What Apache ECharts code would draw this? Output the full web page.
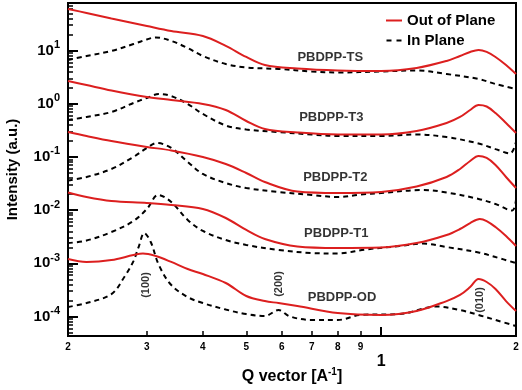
<!DOCTYPE html>
<html><head><meta charset="utf-8">
<script src="https://cdn.jsdelivr.net/npm/echarts@6/dist/echarts.min.js"></script>
<style>html,body{margin:0;padding:0;background:#fff}#c{width:522px;height:390px}</style>
</head><body><div id="c"></div>
<script>
// ---- Data (Q in 1/A, intensity in a.u.) ----
const qTSout = [0.2,0.22,0.25,0.3,0.34,0.4,0.45,0.5,0.55,0.65,0.8,1.0,1.2,1.4,1.5,1.58,1.65,1.72,1.8,1.9,2.0];
const iTSout = [60.3,50.7,39.9,28.8,23.2,18.7,12.2,7.55,5.33,4.59,4.21,4.12,4.69,6.35,7.89,9.38,10.2,9.38,7.55,5.33,3.61];
const qTSin  = [0.2,0.22,0.25,0.28,0.3,0.314,0.34,0.37,0.4,0.45,0.5,0.59,0.7,0.8,1.0,1.2,1.4,1.65,1.8,2.0];
const iTSin  = [6.62,7.87,9.77,13.2,16.1,17.6,15.1,11.1,7.88,5.57,4.79,4.49,4.03,3.86,4.03,4.21,3.61,2.91,2.34,1.89];

const qT3out = [0.2,0.22,0.25,0.3,0.34,0.4,0.45,0.5,0.55,0.65,0.8,1.0,1.2,1.4,1.5,1.58,1.65,1.72,1.8,1.9,2.0];
const iT3out = [2.67,2.24,1.77,1.34,1.17,0.986,0.760,0.472,0.334,0.287,0.263,0.263,0.306,0.433,0.562,0.760,0.944,0.885,0.667,0.433,0.281];
const qT3in  = [0.2,0.22,0.25,0.28,0.3,0.319,0.34,0.37,0.4,0.45,0.5,0.59,0.7,0.8,1.0,1.2,1.4,1.65,1.8,1.94,2.0];
const iT3in  = [0.493,0.562,0.698,1.03,1.28,1.52,1.39,0.986,0.640,0.389,0.327,0.293,0.263,0.247,0.247,0.263,0.236,0.178,0.140,0.116,0.191];

const qT2out = [0.2,0.22,0.25,0.3,0.34,0.4,0.45,0.5,0.55,0.65,0.8,1.0,1.2,1.4,1.5,1.58,1.65,1.72,1.8,1.9,2.0];
const iT2out = [0.294,0.247,0.199,0.154,0.132,0.0995,0.0735,0.0498,0.0337,0.0223,0.0209,0.0219,0.0277,0.0419,0.0592,0.0838,0.104,0.0953,0.0705,0.0419,0.0260];
const qT2in  = [0.2,0.22,0.25,0.28,0.3,0.316,0.34,0.37,0.4,0.45,0.5,0.59,0.7,0.8,0.9,1.0,1.24,1.4,1.65,1.8,1.96,2.0];
const iT2in  = [0.0360,0.0419,0.0592,0.0995,0.147,0.182,0.147,0.0802,0.0477,0.0323,0.0260,0.0219,0.0192,0.0176,0.0196,0.0209,0.0239,0.0214,0.0162,0.0130,0.0098,0.0155];

const qT1out = [0.2,0.22,0.25,0.3,0.34,0.4,0.45,0.5,0.55,0.65,0.8,1.0,1.2,1.4,1.5,1.58,1.66,1.72,1.8,1.9,2.0];
const iT1out = [0.0214,0.0176,0.0148,0.0136,0.0125,0.0105,0.00710,0.00423,0.00286,0.00207,0.00194,0.00198,0.00240,0.00340,0.00441,0.00571,0.00679,0.00623,0.00481,0.00326,0.00211];
const qT1in  = [0.2,0.22,0.25,0.28,0.3,0.318,0.34,0.37,0.4,0.45,0.5,0.59,0.7,0.8,0.924,1.1,1.24,1.4,1.65,1.8,2.0];
const iT1in  = [0.00240,0.00268,0.00387,0.00623,0.0105,0.0192,0.0142,0.00652,0.00405,0.00274,0.00221,0.00178,0.00156,0.00153,0.00182,0.00211,0.00235,0.00202,0.00160,0.00131,0.00101];

const qODout = [0.2,0.22,0.25,0.28,0.294,0.314,0.34,0.37,0.4,0.45,0.5,0.55,0.59,0.65,0.8,1.0,1.2,1.4,1.5,1.58,1.65,1.72,1.8,1.9,2.0];
const iODout = [0.00120,0.00106,0.00115,0.00143,0.00153,0.00137,0.00106,0.000780,0.000628,0.000426,0.000243,0.000195,0.000179,0.000157,0.000116,0.000107,0.000127,0.000195,0.000254,0.000358,0.000507,0.000445,0.000329,0.000195,0.000127];
const qODin  = [0.2,0.22,0.25,0.268,0.28,0.288,0.296,0.306,0.319,0.34,0.37,0.4,0.45,0.5,0.55,0.59,0.626,0.7,0.8,0.9,1.1,1.333,1.5,1.65,1.8,2.0];
const iODin  = [0.000151,0.000179,0.000264,0.000577,0.00110,0.00211,0.00371,0.00251,0.000929,0.000391,0.000232,0.000179,0.000135,0.000111,0.000102,0.000132,0.0001,0.0000859,0.0000859,0.000107,0.000111,0.000154,0.000132,0.000107,0.0000859,0.0000662];

// Axis ranges and ticks
const qRange = [0.2, 2];
const iRange = [4.3e-5, 78];
const xTickValues = [0.2,0.3,0.4,0.5,0.6,0.7,0.8,0.9,1,2];
const xMajorTick = [1];
const yDecades = [-4,-3,-2,-1,0,1];

// Annotations
const sampleNames = ['PBDPP-TS','PBDPP-T3','PBDPP-T2','PBDPP-T1','PBDPP-OD'];
const sampleLabelQ = [0.770,0.774,0.790,0.794,0.818];
const sampleLabelI = [7.55,0.562,0.0419,0.00371,0.000232];
const peakNames = ['(100)','(200)','(010)'];
const peakQ = [0.2986,0.592,1.66];
const peakI = [0.000391,0.000408,0.000204];

// ---- Chart ----
const lg = v => Math.log10(v);
const pairs = (q, i) => q.map((x, k) => [lg(x), lg(i[k])]);
const RED = '#dc1f1f';
const FONT = '"Liberation Sans", Arial, Helvetica, sans-serif';

const yMinor = [];
for (let n = -5; n <= 1; n++) for (let k = 2; k <= 9; k++) {
  const v = k * Math.pow(10, n);
  if (v > iRange[0] && v < iRange[1]) yMinor.push(lg(v));
}

function outSeries(q, i) {
  return {type:'line', name:'Out of Plane', data:pairs(q,i), symbol:'none', smooth:0.35,
    lineStyle:{color:RED, width:2}, itemStyle:{color:RED}, z:3};
}
function inSeries(q, i) {
  return {type:'line', name:'In Plane', data:pairs(q,i), symbol:'none', smooth:0.35,
    lineStyle:{color:'#000', width:2, type:[5,4]}, itemStyle:{color:'#000'}, z:2};
}

const xMin = lg(qRange[0]), xMax = lg(qRange[1]);
const yMin = lg(iRange[0]), yMax = lg(iRange[1]);

const option = {
  animation:false,
  backgroundColor:'#fff',
  textStyle:{fontFamily:FONT},
  grid:{left:68, right:6, top:3, bottom:54, show:true, borderColor:'#000', borderWidth:2,
        backgroundColor:'transparent', outerBoundsMode:'none'},
  legend:{
    data:[
      {name:'Out of Plane', icon:'rect', itemStyle:{color:RED}},
      {name:'In Plane', icon:'path://M0,0H5V2H0ZM10,0H15V2H10Z', itemStyle:{color:'#000'}}
    ],
    orient:'vertical', left:381, top:8,
    itemWidth:16, itemHeight:2, itemGap:5,
    textStyle:{fontSize:15, fontWeight:'bold', color:'#000', fontFamily:FONT, lineHeight:13}
  },
  xAxis:[{
    type:'value', min:xMin, max:xMax, position:'bottom',
    axisLine:{show:false, onZero:false}, splitLine:{show:false},
    axisTick:{show:true, inside:true, length:5, customValues:xTickValues.map(lg), lineStyle:{color:'#000', width:1.5}},
    axisLabel:{show:true, customValues:xTickValues.map(lg), margin:6, color:'#000', fontSize:10, fontWeight:'bold', fontFamily:FONT,
      formatter: v => { const q = Math.pow(10, v); if (Math.abs(q - 1) < 1e-6) return '{big|1}'; return String(Math.round(q >= 1 ? q : q * 10)); },
      rich:{big:{fontSize:16, fontWeight:'bold', color:'#000', fontFamily:FONT, padding:[12,0,0,0]}}},
    name:'{n|Q vector [A}{s|-1}{n|]}', nameLocation:'middle', nameGap:31, nameMoveOverlap:false,
    nameTextStyle:{rich:{n:{fontSize:16, fontWeight:'bold', color:'#000', fontFamily:FONT, lineHeight:20},
                         s:{fontSize:10, fontWeight:'bold', color:'#000', fontFamily:FONT, verticalAlign:'top'}}}
  },{
    type:'value', min:xMin, max:xMax, position:'bottom',
    axisLine:{show:false, onZero:false}, splitLine:{show:false}, axisLabel:{show:false},
    axisTick:{show:true, inside:true, length:9, customValues:xMajorTick.map(lg), lineStyle:{color:'#000', width:2}}
  }],
  yAxis:[{
    type:'value', min:yMin, max:yMax, position:'left',
    axisLine:{show:false, onZero:false}, splitLine:{show:false},
    axisTick:{show:true, inside:true, length:10, customValues:yDecades, lineStyle:{color:'#000', width:2}},
    axisLabel:{show:true, customValues:yDecades, margin:8, color:'#000',
      formatter: v => '{b|10}{s|' + Math.round(v) + '}',
      rich:{b:{fontSize:15, fontWeight:'bold', color:'#000', fontFamily:FONT, lineHeight:22},
            s:{fontSize:11, fontWeight:'bold', color:'#000', fontFamily:FONT, verticalAlign:'top'}}},
    name:'Intensity (a.u.)', nameLocation:'middle', nameGap:48, nameMoveOverlap:false,
    nameTextStyle:{fontSize:15, fontWeight:'bold', color:'#000', fontFamily:FONT}
  },{
    type:'value', min:yMin, max:yMax, position:'left',
    axisLine:{show:false, onZero:false}, splitLine:{show:false}, axisLabel:{show:false},
    axisTick:{show:true, inside:true, length:5, customValues:yMinor, lineStyle:{color:'#000', width:1.5}}
  }],
  series:[
    outSeries(qTSout,iTSout), inSeries(qTSin,iTSin),
    outSeries(qT3out,iT3out), inSeries(qT3in,iT3in),
    outSeries(qT2out,iT2out), inSeries(qT2in,iT2in),
    outSeries(qT1out,iT1out), inSeries(qT1in,iT1in),
    outSeries(qODout,iODout), inSeries(qODin,iODin),
    {type:'scatter', name:'samples', silent:true, symbolSize:1, itemStyle:{color:'rgba(0,0,0,0)'}, z:5,
     data: sampleNames.map((s,k) => ({name:s, value:[lg(sampleLabelQ[k]), lg(sampleLabelI[k])]})),
     label:{show:true, position:'inside', formatter:'{b}', fontSize:13, fontWeight:'bold', color:'#000', fontFamily:FONT}},
    {type:'scatter', name:'peaks', silent:true, symbolSize:1, itemStyle:{color:'rgba(0,0,0,0)'}, z:5,
     data: peakNames.map((s,k) => ({name:s, value:[lg(peakQ[k]), lg(peakI[k])]})),
     label:{show:true, position:'inside', rotate:90, formatter:'{b}', fontSize:11, fontWeight:'bold', color:'#000', fontFamily:FONT}}
  ]
};
const chart = echarts.init(document.getElementById('c'), null, {renderer:'canvas'});
chart.setOption(option);
</script></body></html>
